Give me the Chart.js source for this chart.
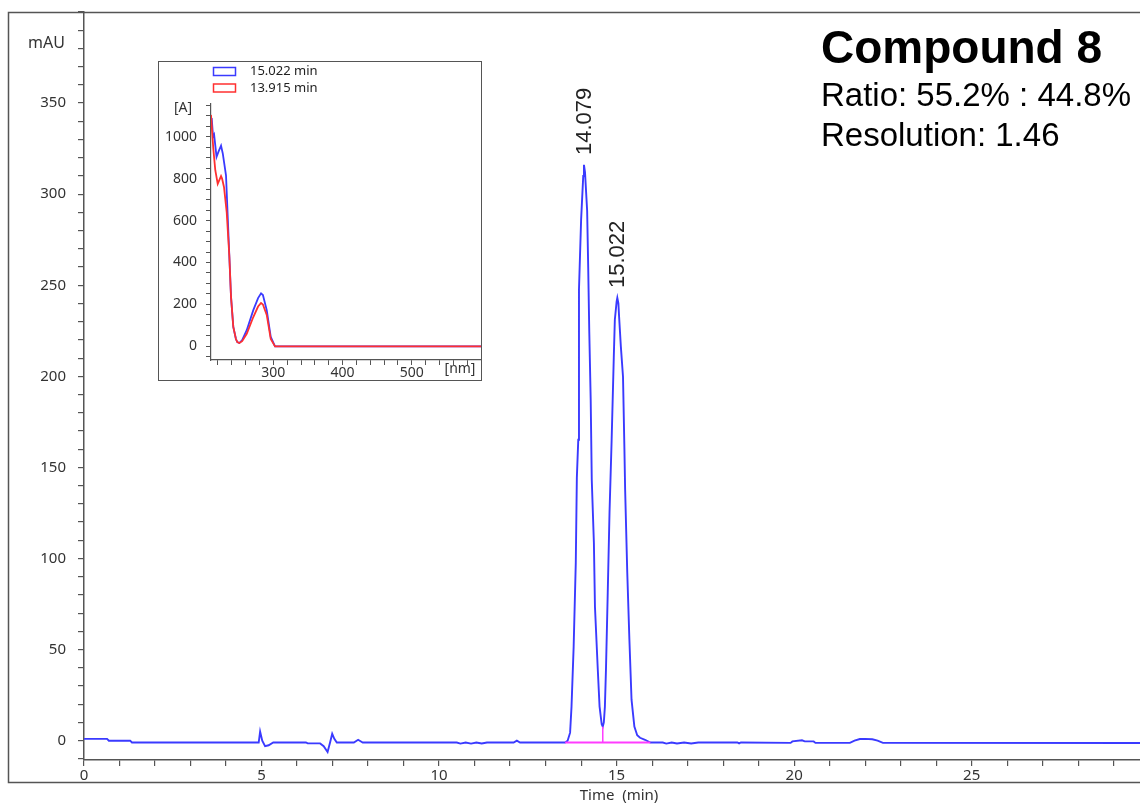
<!DOCTYPE html>
<html>
<head>
<meta charset="utf-8">
<script src="https://cdn.jsdelivr.net/npm/chart.js@4.4.1/dist/chart.umd.min.js"></script>
<style>
  html, body { margin: 0; padding: 0; background: #fff; }
  #wrap { position: relative; width: 1140px; height: 804px; overflow: hidden; }
  #mainChart { position: absolute; left: 0; top: 0; }
  #insetBox { position: absolute; left: 158px; top: 61px; width: 322px; height: 318px; border: 1px solid #555; background: #fff; }
  #insetChart { display: block; }
</style>
</head>
<body>
<div id="wrap">
  <canvas id="mainChart" width="1140" height="804"></canvas>
  <div id="insetBox"><canvas id="insetChart" width="322" height="318"></canvas></div>
</div>
<script>
// chromatogram (time in min, signal in mAU)
const chromTime = [0, 0.65, 0.7, 1.3, 1.35, 4.92, 4.96, 5.02, 5.10, 5.2, 5.33, 6.25, 6.3, 6.65, 6.75, 6.86, 6.93, 6.99, 7.05, 7.12,
  7.6, 7.72, 7.85, 10.5, 10.6, 10.75, 10.9, 11.05, 11.2, 11.35, 12.1, 12.19, 12.28, 13.55, 13.62, 13.69, 13.73, 13.79, 13.85, 13.88,
  13.92, 13.94, 14.00, 14.06, 14.08, 14.11, 14.17, 14.20, 14.23, 14.27, 14.30, 14.36, 14.39, 14.47, 14.52, 14.58, 14.61, 14.64, 14.67, 14.70,
  14.75, 14.80, 14.86, 14.92, 14.95, 15.00, 15.02, 15.05, 15.07, 15.12, 15.18, 15.22, 15.24, 15.30, 15.36, 15.42, 15.50, 15.58, 15.66, 15.80,
  15.95, 16.3, 16.4, 16.55, 16.7, 16.9, 17.1, 17.3, 18.4, 18.45, 18.5, 19.9, 19.95, 20.22, 20.3, 20.55, 20.6, 21.57, 21.7, 21.85,
  22.0, 22.2, 22.35, 22.5, 29.74];
const chromSignal = [1.0, 1.0, 0, 0, -1, -1, 5.0, 0, -3, -2.5, -1, -1, -1.5, -1.5, -3, -6.2, -1, 3.8, 1, -1,
  -1, 0.5, -1, -1, -1.6, -1, -1.6, -1, -1.5, -1, -1, 0, -1, -1, 0, 4.4, 18.7, 51.6, 97.7, 144.3,
  165.2, 247.5, 285.9, 310, 316.1, 312, 290.9, 259.6, 224.5, 187.2, 143.2, 108.7, 73.5, 38.9, 18.7, 9, 7.7, 10, 18.7, 38.9,
  81.2, 125.1, 165.2, 210.2, 231.1, 241, 243.1, 240, 232.7, 216.2, 199.8, 159.7, 137.8, 92.2, 55.4, 22.5, 7.7, 3, 1.6, 0.5,
  -1, -1, -1.6, -1, -1.5, -1, -1.5, -1, -1, -1.5, -1, -1.2, -0.4, 0.2, -0.4, -0.4, -1.2, -1.2, 0, 0.9,
  1.0, 0.8, 0, -1.2, -1.3];

// integration baseline and drop line
const baseTime = [13.55, 15.95];
const baseSignal = [-1, -1];
const dropTime = [14.61, 14.61];
const dropSignal = [-1, 7.7];

// peak annotations
const peakNames = ['14.079', '15.022'];
const peakTimes = [14.079, 15.022];
const peakHeights = [316, 243];

const xTickLabels = [0, 5, 10, 15, 20, 25];
const yTickLabels = [0, 50, 100, 150, 200, 250, 300, 350];

const titleLines = ['Compound 8', 'Ratio: 55.2% : 44.8%', 'Resolution: 1.46'];

// UV spectra for the inset
const spectrumLabels = ['15.022 min', '13.915 min'];
const blueNm = [211, 213, 214.5, 218, 221, 224.5, 227, 228.8, 231.7, 234.1, 236.5, 238.9, 242.2, 246, 248, 250.9, 255, 261.6, 271.1, 278, 282.3, 285, 290.5, 296.3, 302.5, 600];
const blueAbs = [1089, 1000, 1010, 904, 930, 957, 920, 880, 815, 623, 430, 237, 93, 35, 20, 16, 30, 77, 173, 230, 253, 245, 173, 45, 0, 0];
const redNm = [210, 213.3, 216.2, 219.7, 224.5, 226, 228.8, 232.7, 236.5, 238.9, 242.2, 246, 248, 250.9, 255, 261.6, 271.1, 278, 282.3, 285, 290.5, 296.3, 302.5, 600];
const redAbs = [1104, 944, 840, 775, 812, 800, 759, 639, 430, 237, 93, 35, 20, 16, 25, 60, 140, 190, 207, 200, 150, 35, 0, 0];
const insetXLabels = [300, 400, 500];
const insetYLabels = [0, 200, 400, 600, 800, 1000];

const toPoints = (xs, ys) => xs.map((x, i) => ({ x: x, y: ys[i] }));
const hasLabel = (list, v) => list.some(l => Math.abs(l - v) < 1e-6);

const axisColor = '#555';
const labelColor = '#333';

const mainDecor = {
  id: 'mainDecor',
  afterDraw: (chart) => {
    const ctx = chart.ctx;
    const xs = chart.scales.x, ys = chart.scales.y;
    ctx.save();
    // outer frame
    ctx.strokeStyle = axisColor;
    ctx.lineWidth = 1.5;
    ctx.beginPath();
    ctx.moveTo(1141, 12.5); ctx.lineTo(8.5, 12.5); ctx.lineTo(8.5, 782.5); ctx.lineTo(1141, 782.5);
    ctx.stroke();

    ctx.fillStyle = labelColor;
    ctx.font = '16px "Noto Sans"';
    ctx.textAlign = 'right';
    ctx.textBaseline = 'middle';
    ctx.fillText('mAU', 65, 43);

    ctx.font = '15px "Noto Sans"';
    ctx.textAlign = 'center';
    ctx.fillText('Time  (min)', 619, 796);

    // peak labels
    ctx.fillStyle = '#222';
    ctx.font = '22px "Liberation Sans"';
    peakNames.forEach((name, i) => {
      const px = xs.getPixelForValue(peakTimes[i]);
      const py = ys.getPixelForValue(peakHeights[i]) - 10;
      ctx.save();
      ctx.translate(px + 1, py);
      ctx.rotate(-Math.PI / 2);
      ctx.textAlign = 'left';
      ctx.textBaseline = 'middle';
      ctx.fillText(name, 0, 0);
      ctx.restore();
    });

    // title block
    ctx.fillStyle = '#000';
    ctx.textAlign = 'left';
    ctx.textBaseline = 'alphabetic';
    ctx.font = 'bold 46px "Liberation Sans"';
    ctx.fillText(titleLines[0], 821, 63);
    ctx.font = '33px "Liberation Sans"';
    ctx.fillText(titleLines[1], 821, 106);
    ctx.fillText(titleLines[2], 821, 146);
    ctx.restore();
  }
};

new Chart(document.getElementById('mainChart'), {
  type: 'line',
  data: {
    datasets: [
      { data: toPoints(chromTime, chromSignal), borderColor: '#3a3aff', borderWidth: 1.9, pointRadius: 0, tension: 0, order: 1 },
      { data: toPoints(baseTime, baseSignal), borderColor: '#ff3cff', borderWidth: 1.8, pointRadius: 0, order: 0 },
      { data: toPoints(dropTime, dropSignal), borderColor: '#ff3cff', borderWidth: 1.5, pointRadius: 0, order: 0 }
    ]
  },
  options: {
    responsive: false,
    animation: false,
    layout: { padding: { top: 12, left: 0, right: 0, bottom: 0 } },
    plugins: { legend: { display: false }, tooltip: { enabled: false } },
    scales: {
      x: {
        type: 'linear', min: 0, max: 29.74,
        afterFit: (s) => { s.height = 44; },
        border: { color: axisColor, width: 1.5 },
        grid: { drawOnChartArea: false, color: axisColor, tickLength: 6, lineWidth: 1.2 },
        ticks: {
          stepSize: 1, includeBounds: false, autoSkip: false, maxRotation: 0, padding: 1,
          color: labelColor, font: { family: 'Noto Sans', size: 15 },
          callback: (v) => hasLabel(xTickLabels, v) ? String(Math.round(v)) : ''
        }
      },
      y: {
        min: -10.6, max: 400,
        afterFit: (s) => { s.width = 84; s.paddingTop = 0; s.paddingBottom = 0; },
        border: { color: axisColor, width: 1.5 },
        grid: { drawOnChartArea: false, color: axisColor, tickLength: 6, lineWidth: 1.2 },
        ticks: {
          stepSize: 10, includeBounds: false, autoSkip: false, padding: 12,
          color: labelColor, font: { family: 'Noto Sans', size: 15 },
          callback: (v) => hasLabel(yTickLabels, v) ? String(Math.round(v)) : ''
        }
      }
    }
  },
  plugins: [mainDecor]
});

const insetDecor = {
  id: 'insetDecor',
  afterDraw: (chart) => {
    const ctx = chart.ctx;
    ctx.save();
    ctx.lineWidth = 1.5;
    ctx.font = '13px "Noto Sans"';
    ctx.textAlign = 'left';
    ctx.textBaseline = 'middle';
    chart.data.datasets.forEach((ds, i) => {
      const y = 5.5 + i * 16.5;
      ctx.strokeStyle = ds.borderColor;
      ctx.strokeRect(54.5, y, 22, 8);
      ctx.fillStyle = '#222';
      ctx.fillText(ds.label, 91, y + 4);
    });
    ctx.fillStyle = labelColor;
    ctx.font = '14px "Noto Sans"';
    ctx.textAlign = 'center';
    ctx.fillText('[A]', 24, 46);
    ctx.fillText('[nm]', 301, 307);
    ctx.restore();
  }
};

new Chart(document.getElementById('insetChart'), {
  type: 'line',
  data: {
    datasets: [
      { label: spectrumLabels[0], data: toPoints(blueNm, blueAbs), borderColor: '#3a3aff', borderWidth: 1.8, pointRadius: 0, tension: 0, order: 1 },
      { label: spectrumLabels[1], data: toPoints(redNm, redAbs), borderColor: '#ff3030', borderWidth: 1.8, pointRadius: 0, tension: 0, order: 0 }
    ]
  },
  options: {
    responsive: false,
    animation: false,
    layout: { padding: { top: 42, left: 0, right: 0, bottom: 0 } },
    plugins: { legend: { display: false }, tooltip: { enabled: false } },
    scales: {
      x: {
        type: 'linear', min: 210, max: 600,
        afterFit: (s) => { s.height = 20; },
        border: { color: axisColor, width: 1.2 },
        grid: { drawOnChartArea: false, color: axisColor, tickLength: 5, lineWidth: 1 },
        ticks: {
          stepSize: 20, includeBounds: false, autoSkip: false, maxRotation: 0, padding: 0,
          color: labelColor, font: { family: 'Noto Sans', size: 14 },
          callback: (v) => hasLabel(insetXLabels, v) ? String(Math.round(v)) : ''
        }
      },
      y: {
        min: -65, max: 1156,
        afterFit: (s) => { s.width = 52; },
        border: { color: axisColor, width: 1.2 },
        grid: { drawOnChartArea: false, color: axisColor, tickLength: 5, lineWidth: 1 },
        ticks: {
          stepSize: 50, includeBounds: false, autoSkip: false, padding: 9,
          color: labelColor, font: { family: 'Noto Sans', size: 14 },
          callback: (v) => hasLabel(insetYLabels, v) ? String(Math.round(v)) : ''
        }
      }
    }
  },
  plugins: [insetDecor]
});
</script>
</body>
</html>
